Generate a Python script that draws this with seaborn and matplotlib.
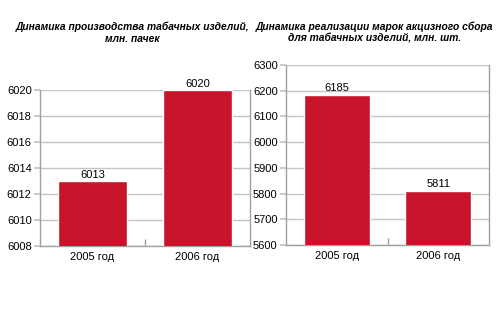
import matplotlib
matplotlib.use("Agg")
import matplotlib.pyplot as plt
import seaborn as sns
import pandas as pd

sns.set_theme(style="white")
plt.rcParams["font.family"] = ["Liberation Sans", "DejaVu Sans"]

years = ["2005 год", "2006 год"]
production = [6013, 6020]
excise_stamps = [6185, 5811]

title_left = "Динамика производства табачных изделий,\nмлн. пачек"
title_right = "Динамика реализации марок акцизного сбора\nдля табачных изделий, млн. шт."

bar_color = "#C8142A"
grid_color = "#C4C4C4"
spine_color = "#A0A0A0"

fig = plt.figure(figsize=(5, 3.3), dpi=100)
ax_l = fig.add_axes([0.080, 0.2545, 0.420, 0.4727])
ax_r = fig.add_axes([0.572, 0.2576, 0.406, 0.5455])


def draw(ax, values, ylim, step, title, title_x):
    df = pd.DataFrame({"year": years, "value": values})
    sns.barplot(data=df, x="year", y="value", color=bar_color, width=0.65,
                saturation=1, ax=ax, zorder=3)
    ax.set_ylim(*ylim)
    ax.set_xlim(-0.5, 1.5)
    ax.set_yticks(range(ylim[0], ylim[1] + 1, step))
    ax.yaxis.grid(True, color=grid_color, linewidth=1.0, zorder=0)
    ax.set_axisbelow(True)
    ax.set_xlabel("")
    ax.set_ylabel("")
    for s in ax.spines.values():
        s.set_visible(True)
        s.set_color(spine_color)
        s.set_linewidth(1.0)
    ax.spines["top"].set_visible(False)
    ax.tick_params(axis="y", length=4, color=grid_color, labelsize=8,
                   labelcolor="black", pad=2, left=True)
    ax.tick_params(axis="x", length=0, labelsize=8, labelcolor="black",
                   pad=4)
    ax.set_xticks([0.5], minor=True)
    ax.tick_params(axis="x", which="minor", direction="in", length=5,
                   color=spine_color, bottom=True)
    for c in ax.containers:
        ax.bar_label(c, labels=[str(v) for v in values], fontsize=8,
                     color="black", padding=1)
    fig.text(title_x, 0.935, title, ha="center", va="top", fontsize=7.4,
             fontweight="bold", fontstyle="italic", color="black",
             linespacing=1.25)


draw(ax_l, production, (6008, 6020), 2, title_left, 0.265)
draw(ax_r, excise_stamps, (5600, 6300), 100, title_right, 0.749)

fig.savefig("out.png", dpi=100, facecolor="white")
